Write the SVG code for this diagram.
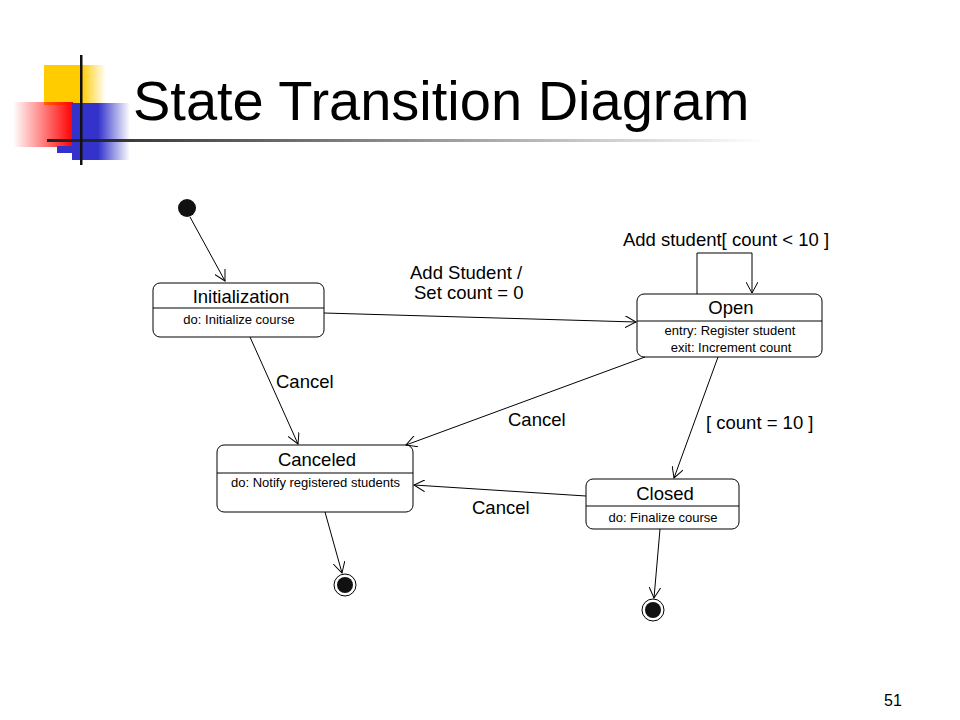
<svg xmlns="http://www.w3.org/2000/svg" width="960" height="720" viewBox="0 0 960 720">
<style>
.box{fill:#fff;stroke:#000;stroke-width:1}
.div{stroke:#000;stroke-width:1}
.t{font-family:"Liberation Sans",Arial,sans-serif;fill:#000}
.name{font-size:18.5px;text-anchor:middle}
.sub{font-size:13px}
.lbl{font-size:18.5px}
.edge{fill:none;stroke:#000;stroke-width:1;marker-end:url(#arr)}
</style>
<defs>
<marker id="arr" viewBox="0 0 12 12" refX="11" refY="6" markerWidth="12" markerHeight="12" markerUnits="userSpaceOnUse" orient="auto">
<polyline points="0,0 11,6 0,12" fill="none" stroke="#000" stroke-width="1"/>
</marker>
<linearGradient id="gy" x1="0" x2="1" y1="0" y2="0"><stop offset="0" stop-color="#ffcc00"/><stop offset="0.6" stop-color="#ffcc00"/><stop offset="1" stop-color="#ffcc00" stop-opacity="0"/></linearGradient>
<linearGradient id="gr" x1="0" x2="1" y1="0" y2="0"><stop offset="0" stop-color="#ff0000" stop-opacity="0"/><stop offset="1" stop-color="#ff0000"/></linearGradient>
<linearGradient id="gb" x1="0" x2="1" y1="0" y2="0"><stop offset="0" stop-color="#3333cc"/><stop offset="0.45" stop-color="#3333cc"/><stop offset="1" stop-color="#3333cc" stop-opacity="0"/></linearGradient>
<linearGradient id="gl" x1="0" x2="1" y1="0" y2="0"><stop offset="0" stop-color="#222"/><stop offset="1" stop-color="#222" stop-opacity="0"/></linearGradient>
</defs>
<rect width="960" height="720" fill="#fff"/>
<g id="logo">
<rect x="44" y="65" width="62" height="40" fill="url(#gy)"/>
<rect x="13" y="102" width="60" height="45" fill="url(#gr)"/>
<rect x="72" y="103" width="58" height="57" fill="url(#gb)"/>
<rect x="57" y="146" width="16" height="7" fill="#3333cc"/>
<rect x="47" y="139" width="720" height="3" fill="url(#gl)"/>
<rect x="80" y="55" width="2.5" height="110" fill="#111"/>
</g>
<text class="t" x="133" y="120" font-size="56">State Transition Diagram</text>
<g id="initial"><circle cx="187" cy="208" r="9" fill="#111"/></g>
<g id="initialization">
<rect class="box" x="153" y="283" width="171" height="54" rx="7"/>
<line class="div" x1="153" y1="308" x2="324" y2="308"/>
<text class="t name" x="241" y="303">Initialization</text>
<text class="t sub" x="239" y="324" text-anchor="middle">do: Initialize course</text>
</g>
<g id="open">
<rect class="box" x="637" y="294" width="185" height="63" rx="7"/>
<line class="div" x1="637" y1="321" x2="822" y2="321"/>
<text class="t name" x="731" y="314">Open</text>
<text class="t sub" x="730" y="335" text-anchor="middle">entry: Register student</text>
<text class="t sub" x="731" y="352" text-anchor="middle">exit: Increment  count</text>
</g>
<g id="canceled">
<rect class="box" x="217" y="445" width="196" height="67" rx="7"/>
<line class="div" x1="217" y1="473" x2="413" y2="473"/>
<text class="t name" x="317" y="466">Canceled</text>
<text class="t sub" x="231" y="487">do: Notify registered students</text>
</g>
<g id="closed">
<rect class="box" x="586" y="479" width="153" height="50" rx="7"/>
<line class="div" x1="586" y1="506" x2="739" y2="506"/>
<text class="t name" x="665" y="500">Closed</text>
<text class="t sub" x="663" y="522" text-anchor="middle">do: Finalize course</text>
</g>
<g id="final1"><circle cx="345" cy="585" r="11" fill="#fff" stroke="#000" stroke-width="1"/><circle cx="345" cy="585" r="8" fill="#111"/></g>
<g id="final2"><circle cx="653" cy="610" r="11" fill="#fff" stroke="#000" stroke-width="1"/><circle cx="653" cy="610" r="8" fill="#111"/></g>
<g id="connectors">
<line class="edge" x1="190" y1="217" x2="225" y2="281"/>
<line class="edge" x1="324" y1="313" x2="636" y2="322"/>
<polyline class="edge" points="697,294 697,253 752,253 752,293"/>
<line class="edge" x1="250" y1="337" x2="298" y2="444"/>
<line class="edge" x1="645" y1="357" x2="406" y2="445"/>
<line class="edge" x1="718" y1="357" x2="674" y2="478"/>
<line class="edge" x1="586" y1="496" x2="414" y2="485"/>
<line class="edge" x1="325" y1="512" x2="342" y2="573"/>
<line class="edge" x1="660" y1="529" x2="654" y2="598"/>
</g>
<g id="labels">
<text class="t lbl" x="726" y="246" text-anchor="middle">Add student[ count &lt; 10 ]</text>
<text class="t lbl" x="410" y="279">Add Student /</text>
<text class="t lbl" x="414" y="299">Set count = 0</text>
<text class="t lbl" x="276" y="388">Cancel</text>
<text class="t lbl" x="508" y="426">Cancel</text>
<text class="t lbl" x="706" y="429">[ count = 10 ]</text>
<text class="t lbl" x="472" y="514">Cancel</text>
</g>
<text class="t" x="884" y="706" font-size="16">51</text>
</svg>
